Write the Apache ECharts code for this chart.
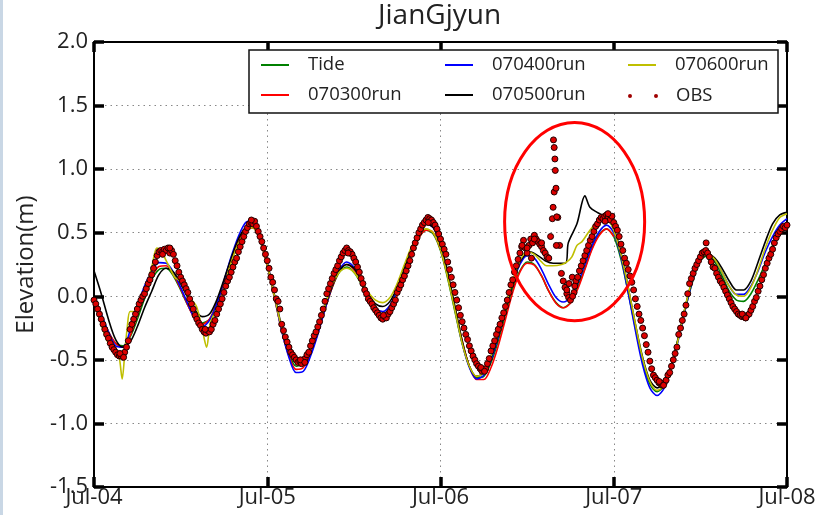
<!DOCTYPE html>
<html><head><meta charset="utf-8">
<script src="https://cdn.jsdelivr.net/npm/echarts@6/dist/echarts.min.js"></script>
<style>html,body{margin:0;padding:0;background:#fff}#c{width:824px;height:515px}</style>
</head><body><div id="c"></div>
<script>
const TITLE = 'JianGjyun';
const Y_NAME = 'Elevation(m)';
const X_TICK_LABELS = ['Jul-04','Jul-05','Jul-06','Jul-07','Jul-08'];
const X_STEP_HOURS = 24;
const HOURS = Array.from({length: 97}, (_, i) => i);

// Tide (green), hourly from Jul-04 00h
const TIDE = [-0.03,-0.15,-0.28,-0.37,-0.39,-0.32,-0.18,-0.02,0.13,0.21,0.22,0.16,0.05,-0.07,-0.17,-0.21,-0.18,-0.06,0.11,0.29,0.44,0.53,0.54,0.44,0.24,-0.01,
-0.26,-0.45,-0.55,-0.53,-0.43,-0.28,-0.10,0.07,0.19,0.23,0.19,0.10,-0.02,-0.11,-0.14,-0.09,0.02,0.17,0.33,0.46,0.52,0.49,0.36,0.14,
-0.12,-0.37,-0.55,-0.64,-0.63,-0.52,-0.35,-0.14,0.06,0.20,0.27,0.25,0.16,0.04,-0.05,-0.09,-0.05,0.07,0.22,0.38,0.49,0.53,
0.47,0.29,0.03,-0.25,-0.51,-0.69,-0.75,-0.70,-0.54,-0.32,-0.08,0.13,0.28,0.32,0.27,0.16,0.04,-0.03,-0.04,0.02,0.13,0.26,0.40,0.50,0.56];

// 070300run (red), hourly Jul-04 00h .. Jul-07 00h
const RUN0300 = [-0.03,-0.15,-0.28,-0.37,-0.40,-0.31,-0.15,0.01,0.15,0.235,0.24,0.17,0.06,-0.07,-0.18,-0.22,-0.18,-0.06,0.11,0.29,0.44,0.53,0.54,0.44,0.24,-0.01,
-0.27,-0.47,-0.575,-0.56,-0.45,-0.29,-0.10,0.07,0.20,0.25,0.21,0.11,-0.01,-0.11,-0.15,-0.10,0.01,0.17,0.33,0.46,0.52,0.50,0.37,0.16,
-0.09,-0.35,-0.55,-0.655,-0.655,-0.56,-0.39,-0.18,0.03,0.19,0.26,0.245,0.16,0.04,-0.055,-0.09,-0.055,0.055,0.21,0.37,0.48,0.53,0.47];

// 070400run (blue), hourly
const RUN0400 = [-0.02,-0.14,-0.28,-0.39,-0.40,-0.27,-0.08,0.08,0.20,0.265,0.26,0.19,0.07,-0.06,-0.18,-0.24,-0.19,-0.06,0.12,0.31,0.47,0.58,0.60,0.48,0.26,0.0,
-0.27,-0.48,-0.60,-0.59,-0.47,-0.30,-0.10,0.08,0.21,0.27,0.23,0.12,0.0,-0.09,-0.12,-0.07,0.05,0.21,0.37,0.50,0.57,0.54,0.40,0.17,
-0.10,-0.37,-0.56,-0.65,-0.62,-0.50,-0.32,-0.10,0.10,0.25,0.32,0.30,0.21,0.09,-0.01,-0.045,-0.01,0.10,0.25,0.40,0.51,0.56,
0.50,0.31,0.03,-0.27,-0.54,-0.72,-0.78,-0.72,-0.56,-0.33,-0.08,0.14,0.29,0.33,0.29,0.19,0.08,0.015,0.015,0.08,0.20,0.35,0.47,0.56,0.61];

// 070500run (black), [hour, value]
const RUN0500 = [[0,0.20],[1,0.02],[2,-0.18],[3,-0.34],[4,-0.40],[5,-0.36],[6,-0.24],[7,-0.09],[8,0.04],[9,0.17],[10,0.22],[11,0.19],[12,0.10],[13,-0.01],[14,-0.11],[15,-0.16],[16,-0.14],[17,-0.03],[18,0.13],[19,0.30],[20,0.45],[21,0.54],[22,0.56],[23,0.46],
[24,0.26],[25,0.01],[26,-0.24],[27,-0.43],[28,-0.52],[29,-0.51],[30,-0.41],[31,-0.26],[32,-0.08],[33,0.08],[34,0.20],[35,0.25],[36,0.22],[37,0.13],[38,0.02],[39,-0.06],[40,-0.08],[41,-0.04],[42,0.07],[43,0.22],[44,0.38],[45,0.51],[46,0.57],[47,0.54],
[48,0.41],[49,0.19],[50,-0.08],[51,-0.35],[52,-0.55],[53,-0.63],[54,-0.60],[55,-0.48],[56,-0.30],[57,-0.10],[58,0.10],[59,0.27],[60.4,0.35],[61.5,0.32],[62.5,0.28],[63.6,0.26],[65.3,0.26],[65.7,0.42],[66.9,0.57],[68.0,0.79],[68.7,0.70],[69.7,0.66],[70.4,0.64],[71,0.62],
[72,0.53],[73,0.34],[74,0.07],[75,-0.22],[76,-0.48],[77,-0.66],[78,-0.72],[79,-0.68],[80,-0.53],[81,-0.31],[82,-0.06],[83,0.15],[84,0.29],[85,0.33],[86,0.30],[87,0.22],[88,0.12],[89,0.05],[90,0.05],[91,0.12],[92,0.27],[93,0.43],[94,0.57],[95,0.64],[96,0.66]];

// 070600run (yellow), [hour, value]
const RUN0600 = [[0,-0.03],[1,-0.22],[2,-0.37],[3,-0.41],[3.5,-0.48],[3.9,-0.65],[4.3,-0.42],[4.6,-0.25],[5.0,-0.12],[5.8,-0.12],[6.8,0.0],[8.0,0.23],[8.7,0.38],[9.3,0.36],[10,0.28],[11.2,0.15],[11.9,0.12],[13.1,0.0],[14.2,-0.08],[15.1,-0.29],[15.6,-0.40],[16.1,-0.21],[16.8,-0.12],[17.7,0.0],[18.8,0.23],[20.2,0.44],[21.5,0.54],[22,0.54],[23,0.45],
[24,0.25],[25,0.0],[26,-0.25],[27,-0.43],[28,-0.52],[29,-0.51],[30,-0.41],[31,-0.25],[32,-0.07],[33,0.09],[34,0.19],[35,0.22],[36,0.19],[37,0.11],[38,0.03],[39,-0.03],[40,-0.05],[41,-0.01],[42,0.10],[43,0.25],[44,0.39],[45,0.49],[46,0.53],[47,0.50],
[48,0.37],[49,0.15],[50,-0.11],[51,-0.37],[52,-0.55],[53,-0.63],[54,-0.60],[55,-0.47],[56,-0.28],[57,-0.08],[58,0.12],[59,0.28],[60,0.35],[61,0.33],[62,0.27],[62.7,0.24],[63.5,0.24],[64.8,0.25],[65.5,0.27],[66.2,0.31],[66.9,0.40],[67.6,0.43],[68.7,0.52],[69.7,0.585],[70.6,0.63],[71.5,0.58],
[72,0.52],[73,0.33],[74,0.07],[75,-0.22],[76,-0.49],[77,-0.67],[78,-0.74],[79,-0.70],[80,-0.55],[81,-0.32],[82,-0.06],[83,0.16],[84,0.30],[85,0.33],[86,0.29],[87,0.19],[88,0.08],[89,0.01],[90,0.0],[91,0.07],[92,0.21],[93,0.38],[94,0.52],[95,0.62],[96,0.65]];

// OBS every 15 min from Jul-04 00h, in cm
const OBS_STEP_HOURS = 0.25;
const OBS_CM = [
-3,-6,-10,-14, -18,-22,-26,-30, -33,-37,-40,-42, -44,-46,-47,-47, -47,-44,-40,-35, -26,-22,-18,-14, -10,-6,-3,0, 2,6,10,13,
17,22,27,32, 35,36,35,37, 36,38,34,36, 33,28,24,19, 15,12,9,6, 3,-2,-6,-10, -15,-18,-21,-23, -26,-28,-29,-27,
-28,-26,-22,-19, -14,-10,-6,-2, 3,8,12,15, 19,23,27,30, 35,39,43,47, 51,54,57,58, 57,59,55,51, 47,43,38,33,
28,22,15,11, 5,-2,-4,-10, -22,-27,-32,-36, -40,-44,-46,-48, -50,-52,-51,-53, -50,-49,-46,-44, -39,-35,-31,-28, -24,-20,-15,-10,
-4,2,6,10, 14,18,21,24, 28,31,34,36, 38,36,35,33, 30,27,23,19, 14,10,5,2, -2,-4,-6,-9, -11,-13,-15,-17,
-18,-16,-17,-14, -12,-9,-6,-3, 3,6,9,13, 16,20,24,28, 33,38,42,46, 50,53,56,58, 60,62,61,60, 58,56,53,49,
45,41,37,33, 27,21,15,9, 3,-3,-9,-15, -20,-25,-30,-34, -39,-43,-47,-50, -53,-55,-57,-59, -58,-57,-53,-49, -43,-39,-35,-30,
-26,-22,-17,-13, -8,-3,3,9, 13,19,24,29, 34,39,44,38, 34,40,45,42, 48,45,43,41, 39,36,34,31, 30,47,61,82,
85,62,40,18, 12,7,2,-1, -3,15,3,12, 15,20,24,28, 32,36,40,44, 47,51,55,57, 60,62,61,63, 64,62,60,63,
58,55,52,47, 41,36,30,26, 21,16,11,5, -2,-8,-14,-19, -25,-31,-38,-44, -51,-57,-62,-64, -66,-68,-69,-70, -68,-66,-62,-60,
-55,-50,-45,-40, -30,-25,-19,-14, -7,2,10,14, 18,22,25,28, 31,34,35,36, 34,31,27,23, 22,18,15,12, 10,7,4,1,
-2,-5,-8,-10, -12,-14,-15,-16, -16,-17,-15,-14, -11,-8,-4,-1, 4,8,13,17, 22,26,30,33, 37,42,46,49, 51,53,55,54,
56];
// extra scattered observations [hour, value m]
const OBS_EXTRA = [[63.6,0.70],[63.65,1.23],[63.75,1.17],[63.85,1.08],[63.9,0.99],[64.1,0.625],[64.05,0.40],[59.3,0.40],[60.0,0.38],[61.0,0.45],[60.6,0.30],[62.0,0.42],
[65.5,0.05],[65.8,0.10],[66.3,0.0],[66.6,0.08],[9.5,0.33],[10.5,0.38],[35.2,0.34],[46.3,0.58],[70.8,0.59],[71.2,0.65],[84.8,0.42],[21.8,0.60],
[3.6,-0.45],[4.1,-0.48],[15.4,-0.26],[28.6,-0.50],[29.2,-0.52],[40.1,-0.15],[53.6,-0.56],[54.1,-0.59],[78.3,-0.67],[78.9,-0.70],[89.8,-0.14],[90.3,-0.17]];

// red annotation ellipse in data units
const ELLIPSE_CENTER = [66.58, 0.587];
const ELLIPSE_RADII = [9.7, 0.78];

const FONT = "'Open Sans', 'DejaVu Sans', sans-serif";
const chart = echarts.init(document.getElementById('c'), null, {renderer: 'canvas'});

const axisLine = {show: true, onZero: false, lineStyle: {color: '#000', width: 2}};
const tick = {show: true, inside: true, length: 10, lineStyle: {color: '#000', width: 3.5}};
const dotted = {show: true, lineStyle: {color: '#888', width: 1, type: [1.5, 4]}};
const legendText = {fontSize: 18.5, color: '#222', fontFamily: FONT, lineHeight: 24, padding: [0, 0, 0, 14]};

const lineSeries = (name, data, color, extra) => Object.assign({
  name, type: 'line', data, showSymbol: false, symbol: 'none', smooth: 0.3,
  lineStyle: {color, width: 1.6}, itemStyle: {color}, z: 3
}, extra || {});

const option = {
  animation: false,
  backgroundColor: '#fff',
  title: {text: TITLE, left: 378, top: 2, padding: 0,
    textStyle: {fontSize: 28, fontWeight: 'normal', color: '#222', fontFamily: FONT}},
  grid: {left: 94, right: 37, top: 42, bottom: 28, containLabel: false},
  xAxis: [
    {type: 'value', min: 0, max: 96, interval: X_STEP_HOURS, position: 'bottom',
     axisLine, axisTick: tick, splitLine: dotted,
     axisLabel: {fontSize: 22, color: '#222', fontFamily: FONT, margin: 0,
       formatter: v => X_TICK_LABELS[Math.round(v / X_STEP_HOURS)] || ''}},
    {type: 'value', min: 0, max: 96, interval: X_STEP_HOURS, position: 'top',
     axisLine, axisTick: tick, splitLine: {show: false}, axisLabel: {show: false}}
  ],
  yAxis: [
    {type: 'value', min: -1.5, max: 2, interval: 0.5, position: 'left',
     name: Y_NAME, nameLocation: 'middle', nameGap: 56,
     nameTextStyle: {fontSize: 24, color: '#222', fontFamily: FONT},
     axisLine, axisTick: tick, splitLine: dotted,
     axisLabel: {fontSize: 22, color: '#222', fontFamily: FONT, margin: 6, formatter: v => v.toFixed(1)}},
    {type: 'value', min: -1.5, max: 2, interval: 0.5, position: 'right',
     axisLine, axisTick: tick, splitLine: {show: false}, axisLabel: {show: false}}
  ],
  legend: [
    {orient: 'vertical', left: 261, top: 53, padding: 0, itemGap: 6, itemWidth: 28, itemHeight: 2, icon: 'rect',
     textStyle: legendText, data: ['Tide', '070300run'], z: 10},
    {orient: 'vertical', left: 445, top: 53, padding: 0, itemGap: 6, itemWidth: 28, itemHeight: 2, icon: 'rect',
     textStyle: legendText, data: ['070400run', '070500run'], z: 10},
    {orient: 'vertical', left: 628, top: 53, padding: 0, itemGap: 6, itemWidth: 28, itemHeight: 2, icon: 'rect',
     textStyle: legendText, data: ['070600run'], z: 10},
    {orient: 'vertical', left: 628, top: 84, padding: 0, itemGap: 6, itemWidth: 30, itemHeight: 4,
     icon: 'path://M0,2a2,2 0 1,0 4,0a2,2 0 1,0 -4,0M26,2a2,2 0 1,0 4,0a2,2 0 1,0 -4,0',
     itemStyle: {color: '#a00000', borderWidth: 0},
     textStyle: Object.assign({}, legendText, {padding: [0, 0, 0, 13]}), data: ['OBS'], z: 10}
  ],
  graphic: [
    {id: 'edge', type: 'rect', left: 0, top: 0, shape: {x: 0, y: 0, width: 3, height: 515}, style: {fill: '#c9d7e5'}, z: 1},
    {id: 'legendBox', type: 'rect', shape: {x: 249, y: 50, width: 529, height: 63},
     style: {fill: '#fff', stroke: '#111', lineWidth: 1.5}, z: 6}
  ],
  series: [
    lineSeries('Tide', HOURS.map((h, i) => [h, TIDE[i]]), '#008000'),
    lineSeries('070300run', RUN0300.map((v, i) => [HOURS[i], v]), '#ff0000'),
    lineSeries('070400run', HOURS.map((h, i) => [h, RUN0400[i]]), '#0000ff'),
    lineSeries('070500run', RUN0500, '#000000'),
    lineSeries('070600run', RUN0600, '#bfbf00'),
    {name: 'OBS', type: 'scatter', symbol: 'circle', symbolSize: 6, z: 4,
     data: OBS_CM.map((v, i) => [i * OBS_STEP_HOURS, v / 100]).concat(OBS_EXTRA),
     itemStyle: {color: '#dd0000', borderColor: '#200000', borderWidth: 1, opacity: 1}}
  ]
};
chart.setOption(option);

const c = chart.convertToPixel({xAxisIndex: 0, yAxisIndex: 0}, ELLIPSE_CENTER);
const e = chart.convertToPixel({xAxisIndex: 0, yAxisIndex: 0},
  [ELLIPSE_CENTER[0] + ELLIPSE_RADII[0], ELLIPSE_CENTER[1] + ELLIPSE_RADII[1]]);
chart.setOption({graphic: [
  {id: 'ellipse', type: 'ellipse', shape: {cx: c[0], cy: c[1], rx: e[0] - c[0], ry: c[1] - e[1]},
   style: {fill: 'transparent', stroke: '#ff0000', lineWidth: 3}, z: 50}
]});
</script></body></html>
